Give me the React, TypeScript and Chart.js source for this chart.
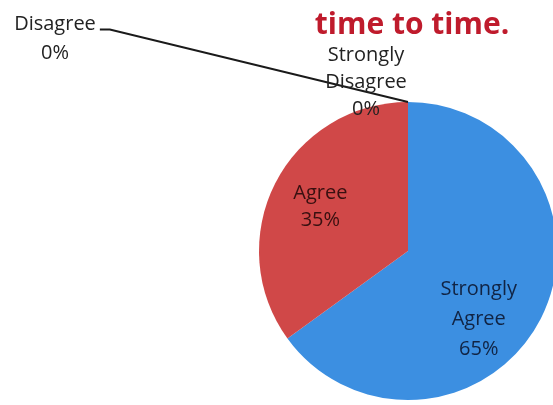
import React, { useEffect, useRef } from 'react';
import { Chart, registerables } from 'chart.js';

Chart.register(...registerables);

// ---- data ----
const categories = ['Strongly Agree', 'Agree', 'Disagree', 'Strongly Disagree'];
const values = [65, 35, 0, 0];
const sliceColors = ['#3c8fe1', '#d04848', '#9bbb59', '#8064a2'];
const titleText = 'time to time.';

// label placement styles (per slice)
const labelPlacement: any[] = [
  { inside: true, angleDeg: 134, frac: 0.66, color: '#112444', lineH: 30 },
  { inside: true, angleDeg: null, frac: 0.66, color: '#381010', lineH: 27 },
  { inside: false, cx: 55, cy: 39, color: '#222222', lineH: 29, leader: true },
  { inside: false, cx: 366, cy: 82, color: '#222222', lineH: 27, leader: false },
];

function labelLines(name: string, value: number, total: number): string[] {
  const pct = Math.round((value / total) * 100) + '%';
  return [...name.split(' '), pct];
}

export default function App() {
  const ref = useRef<HTMLCanvasElement>(null);

  useEffect(() => {
    const canvas = ref.current;
    if (!canvas) return;
    const total = values.reduce((a, b) => a + b, 0);

    const labelPlugin = {
      id: 'pieLabels',
      afterDatasetsDraw(chart: any) {
        const ctx: CanvasRenderingContext2D = chart.ctx;
        const meta = chart.getDatasetMeta(0);
        const first = meta.data[0];
        const cx = first.x;
        const cy = first.y;
        const r = first.outerRadius;
        ctx.save();

        // title
        ctx.fillStyle = '#bf1b2c';
        ctx.font = 'bold 30px "Open Sans", sans-serif';
        ctx.textAlign = 'center';
        ctx.textBaseline = 'middle';
        ctx.fillText(titleText, 412, 25);

        ctx.font = '20px "Open Sans", sans-serif';
        meta.data.forEach((arc: any, i: number) => {
          const p = labelPlacement[i];
          const lines = i === 2 ? ['Disagree', Math.round((values[i] / total) * 100) + '%'] : labelLines(categories[i], values[i], total);
          let bx: number, by: number;
          if (p.inside) {
            const a = p.angleDeg == null
              ? (arc.startAngle + arc.endAngle) / 2
              : ((p.angleDeg - 90) * Math.PI) / 180;
            bx = cx + Math.cos(a) * r * p.frac;
            by = cy + Math.sin(a) * r * p.frac;
          } else {
            bx = p.cx;
            by = p.cy;
          }
          ctx.fillStyle = p.color;
          const y0 = by - ((lines.length - 1) * p.lineH) / 2;
          lines.forEach((ln, k) => ctx.fillText(ln, bx, y0 + k * p.lineH));

          if (p.leader) {
            const w = ctx.measureText(lines[0]).width;
            const sx = bx + w / 2 + 4;
            const sy = y0 + 5;
            const ex = cx + Math.cos(arc.startAngle) * r;
            const ey = cy + Math.sin(arc.startAngle) * r;
            ctx.strokeStyle = '#1a1a1a';
            ctx.lineWidth = 2;
            ctx.beginPath();
            ctx.moveTo(sx, sy);
            ctx.lineTo(sx + 10, sy);
            ctx.lineTo(ex, ey);
            ctx.stroke();
          }
        });
        ctx.restore();
      },
    };

    const chart = new Chart(canvas, {
      type: 'pie',
      data: {
        labels: categories,
        datasets: [
          {
            data: values,
            backgroundColor: sliceColors,
            borderWidth: 0,
            radius: 149,
          } as any,
        ],
      },
      options: {
        responsive: false,
        animation: false,
        layout: { padding: { left: 263, top: 97, right: 0, bottom: 0 } },
        plugins: {
          legend: { display: false },
          tooltip: { enabled: false },
          title: { display: false },
        },
      },
      plugins: [labelPlugin],
    });
    return () => chart.destroy();
  }, []);

  return (
    <div style={{ position: 'fixed', left: 0, top: 0, width: 553, height: 405, background: '#fff' }}>
      <canvas ref={ref} width={553} height={405} style={{ display: 'block' }} />
    </div>
  );
}
